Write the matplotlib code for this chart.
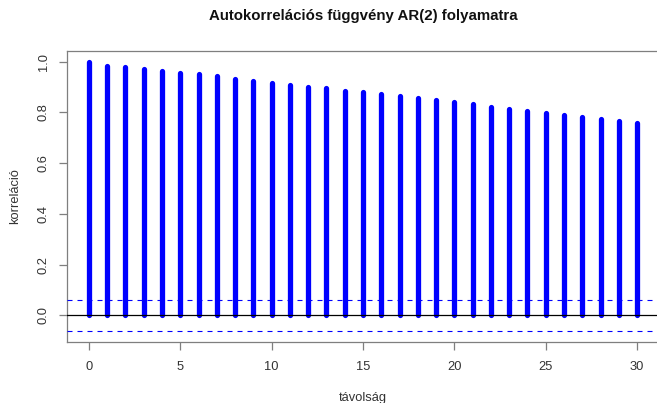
import numpy as np
import matplotlib
matplotlib.use("Agg")
import matplotlib.pyplot as plt

plt.rcParams['font.family'] = ['Liberation Sans', 'DejaVu Sans']

# Sample autocorrelation of the AR(2) series, lags 0..30
lags = list(range(0, 31))
acf_values = [1.000, 0.985, 0.978, 0.972, 0.965, 0.957, 0.951, 0.942, 0.932, 0.924,
              0.918, 0.910, 0.902, 0.896, 0.886, 0.879, 0.872, 0.864, 0.856, 0.849,
              0.840, 0.833, 0.823, 0.813, 0.807, 0.799, 0.792, 0.782, 0.776, 0.767,
              0.760]
conf_bound = 0.062

title = "Autokorrelációs függvény AR(2) folyamatra"
xlabel = "távolság"
ylabel = "korreláció"
xticks = [0, 5, 10, 15, 20, 25, 30]
yticks = [0.0, 0.2, 0.4, 0.6, 0.8, 1.0]

fig = plt.figure(figsize=(6.57, 4.03), dpi=100)
ax = fig.add_axes([67 / 657, 61 / 403, 592 / 657, 291 / 403])

bars = ax.vlines(lags, 0, acf_values, colors='#0000ff', linewidth=3.8, zorder=2)
bars.set_capstyle('round')

ax.axhline(0, color='black', linewidth=0.9, zorder=3)
for b in (conf_bound, -conf_bound):
    ax.axhline(b, color='#0000ff', linewidth=0.8, linestyle=(0, (4.5, 4.5)), zorder=3)

ax.set_xlim(-1.2, 31.2)
ax.set_ylim(-0.105, 1.0425)
ax.set_xticks(xticks)
ax.set_xticklabels([str(t) for t in xticks])
ax.set_yticks(yticks)
ax.set_yticklabels([f"{t:.1f}" for t in yticks], rotation=90, va='center')

for s in ax.spines.values():
    s.set_color('#7f7f7f')
    s.set_linewidth(0.9)
ax.tick_params(axis='both', colors='#7f7f7f', labelcolor='#333333', length=5.5,
               width=0.9, labelsize=9.3)
ax.tick_params(axis='x', pad=8)
ax.tick_params(axis='y', pad=7)

ax.set_title(title, fontsize=10.8, fontweight='bold', color='#111111', pad=22)
ax.set_xlabel(xlabel, fontsize=9.3, color='#333333', labelpad=14)
ax.set_ylabel(ylabel, fontsize=9.3, color='#333333', labelpad=12)

fig.savefig("out.png", dpi=100)
